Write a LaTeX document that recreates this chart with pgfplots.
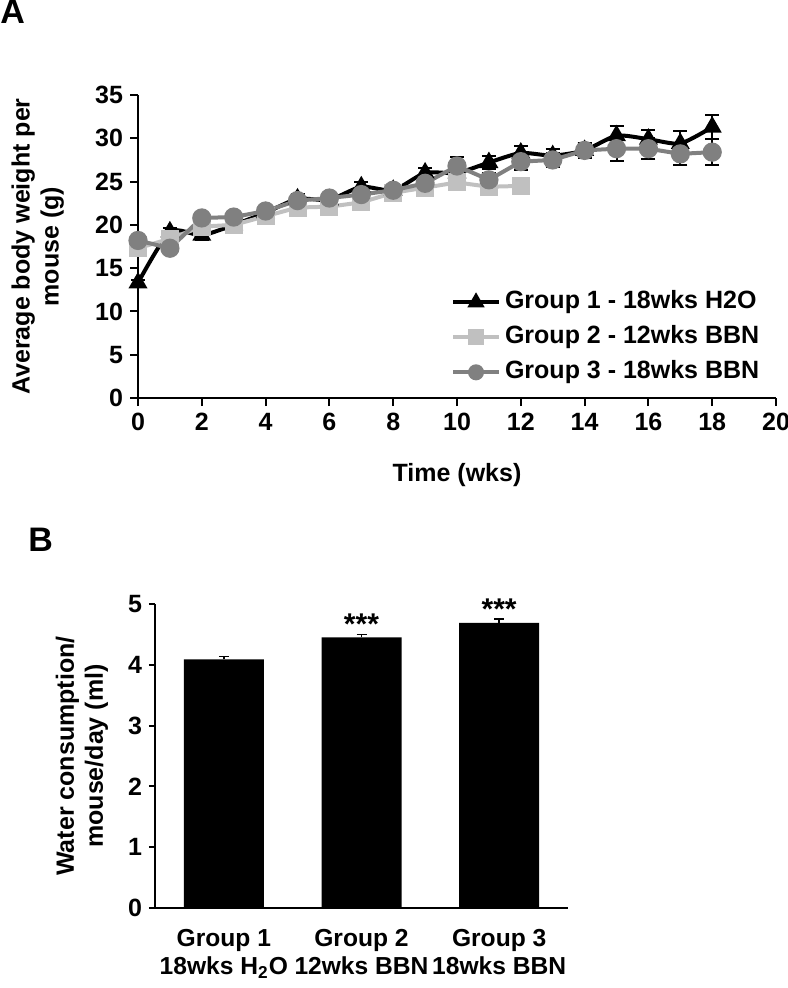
\documentclass[border=0pt]{standalone}
\usepackage{fontspec}
\setmainfont{Liberation Sans}
\usepackage{pgfplots}
\pgfplotsset{compat=1.18}
\usepackage{pgfplotstable}

\definecolor{lgray}{RGB}{192,192,192}
\definecolor{mgray}{RGB}{128,128,128}

\pgfplotstableread{
x y e
0 13.3 0.3
1 19.2 0.4
2 18.8 0.5
3 20.0 0.5
4 21.4 0.5
5 23.0 0.6
6 22.9 0.5
7 24.4 0.6
8 24.0 0.5
9 26.0 0.6
10 26.0 0.7
11 27.2 0.8
12 28.3 0.8
13 28.0 0.8
14 28.6 0.9
15 30.3 1.1
16 29.9 1.1
17 29.4 1.4
18 31.3 1.4
}\gone

\pgfplotstableread{
x y e
0 17.3 0.4
1 18.4 0.5
2 19.8 0.5
3 20.0 0.5
4 21.0 0.5
5 22.0 0.5
6 22.1 0.5
7 22.6 0.5
8 23.7 0.4
9 24.3 0.5
10 24.9 0.5
11 24.4 0.6
12 24.5 0.85
}\gtwo

\pgfplotstableread{
x y e
0 18.2 0.5
1 17.3 0.5
2 20.8 0.5
3 20.9 0.6
4 21.6 0.5
5 22.8 0.6
6 23.1 0.5
7 23.5 0.7
8 24.0 0.5
9 24.8 0.7
10 26.8 1.0
11 25.2 0.8
12 27.3 1.0
13 27.5 0.8
14 28.6 0.8
15 28.8 1.4
16 28.8 1.2
17 28.2 1.3
18 28.4 1.5
}\gthree

\begin{document}
\begin{tikzpicture}[font=\bfseries]
\useasboundingbox (0,0) rectangle (393.5pt,-494pt);
\node[anchor=north west, inner sep=0pt, font=\fontsize{17}{20}\selectfont\bfseries] at (0pt,0pt) {A};
\node[anchor=north west, inner sep=0pt, font=\fontsize{17}{20}\selectfont\bfseries] at (14pt,-264pt) {B};

\begin{axis}[
  at={(69pt,-199pt)}, anchor=south west,
  scale only axis, width=319pt, height=151.5pt,
  xmin=0, xmax=20, ymin=0, ymax=35,
  axis lines=left,
  axis line style={-, line width=1pt},
  xtick={0,2,...,20}, ytick={0,5,...,35},
  tick align=outside, major tick length=4pt,
  tick style={black, line width=1pt},
  tick label style={font=\fontsize{12.5}{14}\selectfont\bfseries},
  /pgf/number format/assume math mode=true,
  xlabel={Time (wks)},
  xlabel style={at={(axis description cs:0.5,-0.254)}, anchor=center, font=\fontsize{12.5}{15}\selectfont\bfseries},
  ylabel={Average body weight per\\mouse (g)},
  ylabel style={at={(axis description cs:-0.157,0.5)}, anchor=center, align=center, font=\fontsize{12.5}{14.5}\selectfont\bfseries},
  legend style={draw=none, fill=none, at={(axis description cs:0.49,0.362)}, anchor=north west,
    font=\fontsize{12.5}{15}\selectfont\bfseries, inner sep=0pt, row sep=3.9pt,
    nodes={inner ysep=1pt, text height=9pt, text depth=2.6pt}},
  legend cell align=left,
  legend image code/.code={\draw[mark repeat=2,mark phase=2, mark size=3pt] plot coordinates {(0pt,0pt) (11.5pt,0pt) (23pt,0pt)};},
  clip=false,
]
\addplot[black, line width=2pt, smooth, tension=0.4, mark=triangle*, mark size=3.5pt, mark options={solid, fill=black},
  error bars/.cd, y dir=both, y explicit,
  error bar style={black, line width=1pt},
  error mark options={rotate=90, mark size=3.5pt, black, line width=1pt}]
  table[x=x, y=y, y error=e] {\gone};
\addlegendentry{Group 1 - 18wks H2O}
\addplot[lgray, line width=2pt, mark=square*, mark size=3.5pt, mark options={solid, fill=lgray},
  error bars/.cd, y dir=both, y explicit,
  error bar style={black, line width=1pt},
  error mark options={rotate=90, mark size=3.5pt, black, line width=1pt}]
  table[x=x, y=y, y error=e] {\gtwo};
\addlegendentry{Group 2 - 12wks BBN}
\addplot[mgray, line width=2pt, mark=*, mark size=3.8pt, mark options={solid, fill=mgray},
  error bars/.cd, y dir=both, y explicit,
  error bar style={black, line width=1pt},
  error mark options={rotate=90, mark size=3.5pt, black, line width=1pt}]
  table[x=x, y=y, y error=e] {\gthree};
\addlegendentry{Group 3 - 18wks BBN}
\end{axis}

\begin{axis}[
  at={(77.5pt,-454pt)}, anchor=south west,
  scale only axis, width=206.5pt, height=152pt,
  xmin=-0.5, xmax=2.5, ymin=0, ymax=5,
  axis lines=left,
  axis line style={-, line width=1pt},
  xtick={0,1,2},
  xticklabels={{Group 1\\18wks H\textsubscript{2}O},{Group 2\\12wks BBN},{Group 3\\18wks BBN}},
  xtick style={draw=none},
  xticklabel style={align=center, font=\fontsize{12.3}{14}\selectfont\bfseries, yshift=-4pt},
  ytick={0,1,...,5},
  tick align=outside, major tick length=3pt,
  ytick style={black, line width=1pt},
  yticklabel style={font=\fontsize{12.5}{14}\selectfont\bfseries},
  /pgf/number format/assume math mode=true,
  ylabel={Water consumption/\\mouse/day (ml)},
  ylabel style={at={(axis description cs:-0.177,0.5)}, anchor=center, align=center, font=\fontsize{12.5}{14.5}\selectfont\bfseries},
  ybar, bar width=40pt,
  clip=false,
]
\addplot[fill=black, draw=none,
  error bars/.cd, y dir=plus, y explicit,
  error bar style={black, line width=0.8pt},
  error mark options={rotate=90, mark size=2.5pt, black, line width=0.8pt}]
  coordinates {(0,4.09) +- (0,0.05) (1,4.45) +- (0,0.05) (2,4.69) +- (0,0.06)};
\node[font=\fontsize{15}{15}\selectfont\bfseries] at (axis cs:1,4.67) {***};
\node[font=\fontsize{15}{15}\selectfont\bfseries] at (axis cs:2,4.91) {***};
\end{axis}
\end{tikzpicture}
\end{document}
